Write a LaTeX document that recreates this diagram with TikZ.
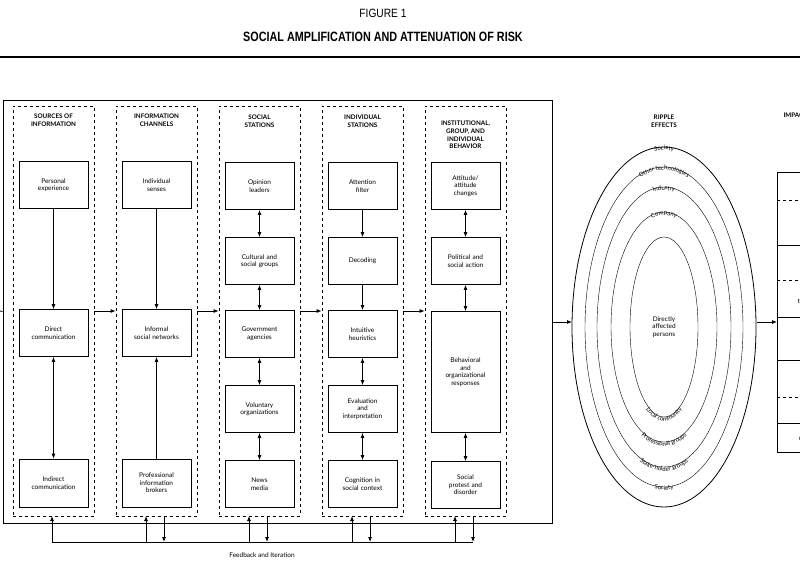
\documentclass[tikz,border=0pt]{standalone}
\usepackage{fontspec}
\usepackage{graphicx}
\setmainfont{Lato}
\newfontfamily\titlefont{Liberation Sans}
\usetikzlibrary{arrows.meta,decorations.text,calc}
\tikzset{
  box/.style={draw,thick,minimum width=69pt,text width=66pt,align=center,inner sep=1pt,font=\fontsize{6.5}{7.6}\selectfont},
  colbox/.style={draw,thick,dashed,minimum width=81pt,minimum height=410pt},
  head/.style={align=center,font=\bfseries\fontsize{6.3}{7.8}\selectfont},
  arr/.style={-{Latex[length=5pt,width=4pt]},thick},
  darr/.style={{Latex[length=5pt,width=4pt]}-{Latex[length=5pt,width=4pt]},thick},
  ring/.style={font=\fontsize{6}{6}\selectfont}
}
\begin{document}
\begin{tikzpicture}[x=1pt,y=-1pt]
    \useasboundingbox (0,0) rectangle (800,573);
    \clip (0,0) rectangle (800,573);

    % title
    \node[font=\titlefont\fontsize{12}{12}\selectfont] (fig) at (383,13) {\scalebox{0.85}[1]{FIGURE 1}};
    \node[font=\titlefont\bfseries\fontsize{13.5}{13.5}\selectfont] (title) at (383,37) {\scalebox{0.8}[1]{SOCIAL AMPLIFICATION AND ATTENUATION OF RISK}};
    \draw[line width=1.6pt] (0,57) -- (800,57);

    % frame and columns
    \node[draw,thick,minimum width=549pt,minimum height=423pt] (frame) at (277.5,311.5) {};
    \foreach \i/\x in {1/53.5,2/156.5,3/259.5,4/362.5,5/465.5}
        \node[colbox] (c\i) at (\x,311) {};
    \node[head] (h1) at (53.5,120) {SOURCES OF\\INFORMATION};
    \node[head] (h2) at (156.5,120) {INFORMATION\\CHANNELS};
    \node[head] (h3) at (259.5,121) {SOCIAL\\STATIONS};
    \node[head] (h4) at (362.5,121) {INDIVIDUAL\\STATIONS};
    \node[head] (h5) at (465.5,135) {INSTITUTIONAL,\\GROUP, AND\\INDIVIDUAL\\BEHAVIOR};

    % sources of information
    \node[box,minimum height=47pt] (personal) at (53.5,185) {Personal\\experience};
    \node[box,minimum height=47pt] (direct) at (53.5,333) {Direct\\communication};
    \node[box,minimum height=48pt] (indirect) at (53.5,483) {Indirect\\communication};
    \draw[arr] (personal) -- (direct);
    \draw[darr] (direct) -- (indirect);

    % information channels
    \node[box,minimum height=47pt] (senses) at (156.5,185) {Individual\\senses};
    \node[box,minimum height=47pt] (informal) at (156.5,333) {Informal\\social networks};
    \node[box,minimum height=48pt] (brokers) at (156.5,483) {Professional\\information\\brokers};
    \draw[arr] (senses) -- (informal);
    \draw[arr] (brokers) -- (informal);

    % social stations
    \node[box,minimum height=47pt] (opinion) at (259.5,186) {Opinion\\leaders};
    \node[box,minimum height=47pt] (cultural) at (259.5,261) {Cultural and\\social groups};
    \node[box,minimum height=47pt] (govt) at (259.5,334) {Government\\agencies};
    \node[box,minimum height=47pt] (voluntary) at (259.5,409) {Voluntary\\organizations};
    \node[box,minimum height=47pt] (news) at (259.5,484) {News\\media};
    \draw[darr] (opinion) -- (cultural);
    \draw[darr] (cultural) -- (govt);
    \draw[darr] (govt) -- (voluntary);
    \draw[darr] (voluntary) -- (news);

    % individual stations
    \node[box,minimum height=47pt] (attention) at (362.5,186) {Attention\\filter};
    \node[box,minimum height=47pt] (decoding) at (362.5,261) {Decoding};
    \node[box,minimum height=47pt] (heuristics) at (362.5,334) {Intuitive\\heuristics};
    \node[box,minimum height=47pt] (evaluation) at (362.5,409) {Evaluation\\and\\interpretation};
    \node[box,minimum height=47pt] (cognition) at (362.5,484) {Cognition in\\social context};
    \draw[arr] (attention) -- (decoding);
    \draw[arr] (decoding) -- (heuristics);
    \draw[darr] (heuristics) -- (evaluation);
    \draw[darr] (evaluation) -- (cognition);

    % behavior
    \node[box,minimum height=47pt] (attitude) at (465.5,186) {Attitude/\\attitude\\changes};
    \node[box,minimum height=47pt] (political) at (465.5,261) {Political and\\social action};
    \node[box,minimum height=121pt] (behavioral) at (465.5,372) {Behavioral\\and\\organizational\\responses};
    \node[box,minimum height=47pt] (protest) at (465.5,485) {Social\\protest and\\disorder};
    \draw[darr] (attitude) -- (political);
    \draw[darr] (political) -- (behavioral);
    \draw[darr] (behavioral) -- (protest);

    % flow between columns
    \coordinate (in) at (0,311);
    \draw[thick] (in) -- (frame.west);
    \foreach \a/\b in {c1/c2,c2/c3,c3/c4,c4/c5}
        \draw[arr] (\a.east) -- (\b.west);

    % feedback
    \coordinate (fbl) at (52,542);
    \coordinate (fbr) at (473,542);
    \draw[thick] (fbl) -- (fbr);
    \draw[arr] (fbl) -- (52,516);
    \foreach \u/\d in {146/164,249/267,352/370,455/473} {
        \draw[arr] (\u,542) -- (\u,516);
        \draw[arr] (\d,516) -- (\d,542);
    }
    \node[font=\fontsize{6.5}{7}\selectfont] (fb) at (262,555) {Feedback and Iteration};

    % ripple effects
    \node[head] (ripple) at (664,121) {RIPPLE\\EFFECTS};
    \coordinate (ctr) at (664,327);
    \draw[thick] (ctr) ellipse [x radius=92,y radius=180];
    \draw (ctr) ellipse [x radius=79,y radius=160];
    \draw (ctr) ellipse [x radius=67,y radius=140];
    \draw (ctr) ellipse [x radius=53,y radius=115];
    \draw (ctr) ellipse [x radius=34,y radius=90];
    \node[align=center,font=\fontsize{6.5}{7.6}\selectfont] (persons) at (ctr) {Directly\\affected\\persons};
    \path[decorate,decoration={text along path,text align=center,text={|\fontsize{6}{6}\selectfont|Society}}]
        ($(ctr)+(105:81 and 163)$) arc[start angle=105,end angle=75,x radius=81,y radius=163];
    \path[decorate,decoration={text along path,text align=center,text={|\fontsize{6}{6}\selectfont|Stake-holder groups}}]
        ($(ctr)+(140:69 and 144)$) arc[start angle=140,end angle=40,x radius=69,y radius=144];
    \path[decorate,decoration={text along path,text align=center,text={|\fontsize{6}{6}\selectfont|Professional groups}}]
        ($(ctr)+(145:56 and 119)$) arc[start angle=145,end angle=35,x radius=56,y radius=119];
    \path[decorate,decoration={text along path,text align=center,text={|\fontsize{6}{6}\selectfont|Local community}}]
        ($(ctr)+(155:37 and 94)$) arc[start angle=155,end angle=25,x radius=37,y radius=94];
    \path[decorate,decoration={text along path,text align=center,text={|\fontsize{6}{6}\selectfont|Company}}]
        ($(ctr)+(235:51 and 112)$) arc[start angle=235,end angle=305,x radius=51,y radius=112];
    \path[decorate,decoration={text along path,text align=center,text={|\fontsize{6}{6}\selectfont|Industry}}]
        ($(ctr)+(245:64 and 137)$) arc[start angle=245,end angle=295,x radius=64,y radius=137];
    \path[decorate,decoration={text along path,text align=center,text={|\fontsize{6}{6}\selectfont|Other technologies}}]
        ($(ctr)+(225:76 and 157)$) arc[start angle=225,end angle=315,x radius=76,y radius=157];
    \path[decorate,decoration={text along path,text align=center,text={|\fontsize{6}{6}\selectfont|Society}}]
        ($(ctr)+(250:89 and 177)$) arc[start angle=250,end angle=290,x radius=89,y radius=177];

    % impacts
    \node[head,anchor=west] (imp) at (780,115) {IMPACTS};
    \draw[thick] (777,172) rectangle (860,452);
    \foreach \y in {245,317,360,423} \draw[thick] (777,\y) -- (860,\y);
    \foreach \y in {200,280,397} \draw[dashed] (777,\y) -- (860,\y);
    \coordinate (rin) at (572,322);
    \coordinate (rout) at (757,322);
    \draw[arr] (frame.east |- rin) -- (rin);
    \draw[arr] (rout) -- (777,322);
    \foreach \y/\t in {185/Loss of sales,222/Financial\\losses,262/Regulatory\\actions,298/Organiza-\\tional changes,337/Litigation,382/Increase or\\decrease in\\physical risk,410/Community\\concern,438/Loss of\\confidence in\\institutions}
        \node[align=center,font=\fontsize{6.5}{7.6}\selectfont] at (818,\y) {\t};
\end{tikzpicture}
\end{document}
